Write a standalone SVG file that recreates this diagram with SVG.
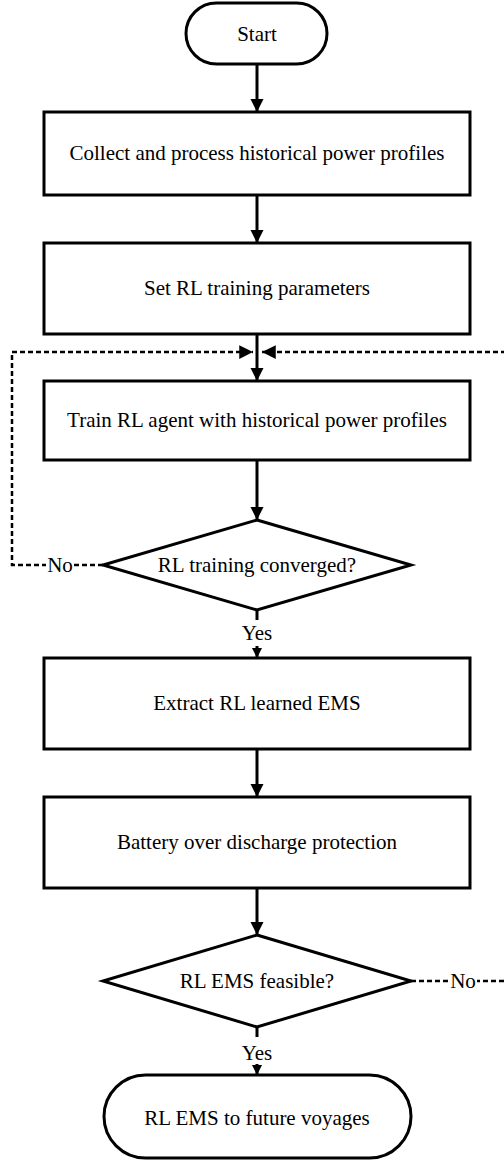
<svg xmlns="http://www.w3.org/2000/svg" width="504" height="1160" viewBox="0 0 504 1160" font-family="Liberation Serif, Tinos, Times New Roman, Times, DejaVu Serif, serif">
<style>
.n{fill:#fff;stroke:#000;stroke-width:3}
.t{font-size:21px;fill:#000;text-anchor:middle}
.c{fill:none;stroke:#000;stroke-width:3}
.d{fill:none;stroke:#000;stroke-width:2.5;stroke-dasharray:5 3}
</style>
<defs>
<marker id="ah" viewBox="0 0 10 10" refX="10" refY="5" markerWidth="4.5" markerHeight="4.5" orient="auto" markerUnits="strokeWidth"><path d="M0,0L10,5L0,10z" fill="#000"/></marker>
<marker id="ahd" viewBox="0 0 10 10" refX="10" refY="5" markerWidth="5.5" markerHeight="5.5" orient="auto" markerUnits="strokeWidth"><path d="M0,0L10,5L0,10z" fill="#000"/></marker>
<marker id="ahs" viewBox="0 0 10 10" refX="10" refY="5" markerWidth="3.5" markerHeight="3.5" orient="auto" markerUnits="strokeWidth"><path d="M0,0L10,5L0,10z" fill="#000"/></marker>
</defs>
<g id="connectors">
<path class="c" d="M257,64V112" marker-end="url(#ah)"/>
<path class="c" d="M257,195V243" marker-end="url(#ah)"/>
<path class="c" d="M257,334V381" marker-end="url(#ah)"/>
<path class="c" d="M257,460V520" marker-end="url(#ah)"/>
<path class="c" d="M257,610V620"/>
<path class="c" d="M257,646V658" marker-end="url(#ahs)"/>
<path class="c" d="M257,749V797" marker-end="url(#ah)"/>
<path class="c" d="M257,888V935" marker-end="url(#ah)"/>
<path class="c" d="M257,1027V1037"/>
<path class="c" d="M257,1064V1075" marker-end="url(#ahs)"/>
<path class="d" d="M103,565H12V352H253" marker-end="url(#ahd)"/>
<path class="d" d="M411,981H512V352H262" marker-end="url(#ahd)"/>
<rect x="46" y="553" width="28" height="24" fill="#fff"/>
<rect x="449" y="969" width="28" height="24" fill="#fff"/>
<text class="t" x="60" y="572">No</text>
<text class="t" x="463" y="988">No</text>
<text class="t" x="257" y="640">Yes</text>
<text class="t" x="257" y="1060">Yes</text>
</g>
<g id="start"><rect class="n" x="186" y="3" width="141" height="61" rx="30.5"/><text class="t" x="257" y="41">Start</text></g>
<g id="collect"><rect class="n" x="44" y="112" width="426" height="83"/><text class="t" x="257" y="160">Collect and process historical power profiles</text></g>
<g id="setparams"><rect class="n" x="44" y="243" width="426" height="91"/><text class="t" x="257" y="295">Set RL training parameters</text></g>
<g id="train"><rect class="n" x="44" y="381" width="426" height="79"/><text class="t" x="257" y="427">Train RL agent with historical power profiles</text></g>
<g id="converged"><path class="n" d="M257,520L411,565L257,610L103,565Z"/><text class="t" x="257" y="572">RL training converged?</text></g>
<g id="extract"><rect class="n" x="44" y="658" width="426" height="91"/><text class="t" x="257" y="710">Extract RL learned EMS</text></g>
<g id="battery"><rect class="n" x="44" y="797" width="426" height="91"/><text class="t" x="257" y="849">Battery over discharge protection</text></g>
<g id="feasible"><path class="n" d="M257,935L411,981L257,1027L103,981Z"/><text class="t" x="257" y="988">RL EMS feasible?</text></g>
<g id="future"><rect class="n" x="104" y="1075" width="307" height="83" rx="41.5"/><text class="t" x="257" y="1125">RL EMS to future voyages</text></g>
</svg>
